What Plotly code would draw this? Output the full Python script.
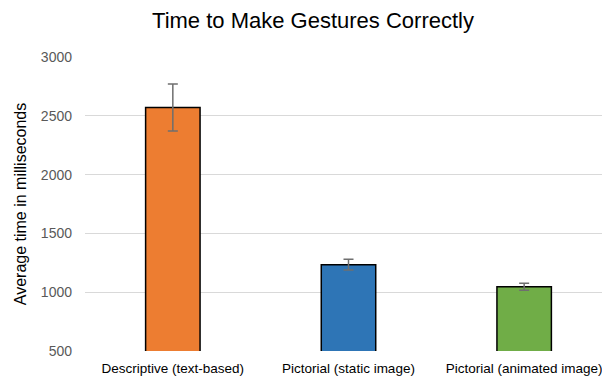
import plotly.graph_objects as go

categories = ["Descriptive (text-based)", "Pictorial (static image)", "Pictorial (animated image)"]
values = [2570, 1234, 1047]
errors = [200, 46, 30]
colors = ["#ED7D31", "#2E75B6", "#70AD47"]

fig = go.Figure(go.Bar(
    x=categories, y=values,
    marker=dict(color=colors, line=dict(color="#000000", width=1.5)),
    width=0.31,
    error_y=dict(type="data", array=errors, visible=True, color="#6f6f6f", thickness=1.5, width=5),
))

fig.update_layout(
    width=610, height=379,
    margin=dict(l=77, r=6, t=49, b=36),
    paper_bgcolor="white", plot_bgcolor="white",
    font=dict(family="Liberation Sans, Arial, sans-serif", color="#595959", size=14),
    title=dict(text="Time to Make Gestures Correctly", x=0.5, xanchor="center", y=0.968, yanchor="middle",
               font=dict(size=22, color="#000000")),
    showlegend=False,
)
fig.update_yaxes(range=[500, 3000], dtick=500, showgrid=True, gridcolor="#d9d9d9", gridwidth=1,
                 zeroline=False, showline=False, ticks="", ticklabelstandoff=12,
                 tickfont=dict(size=14, color="#595959"),
                 title=dict(text="Average time in milliseconds", font=dict(size=16, color="#000000"), standoff=10))
fig.update_xaxes(showline=False, ticks="", ticklabelstandoff=7, tickfont=dict(size=13.5, color="#000000"))

fig.write_html("out.html")
